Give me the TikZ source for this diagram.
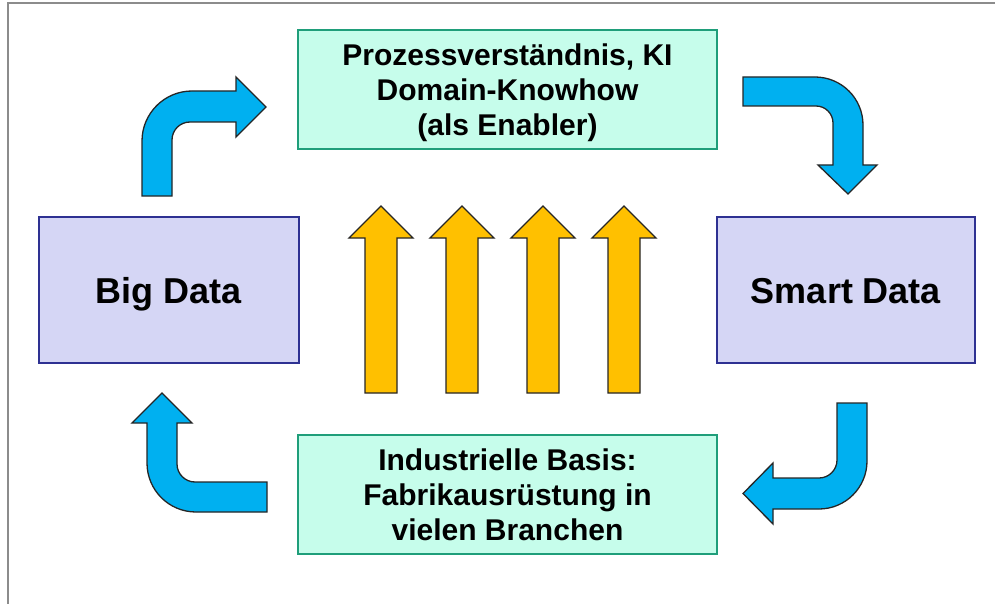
\documentclass[tikz,border=0pt]{standalone}
\usepackage{fontspec}
\setmainfont{Liberation Sans}
\definecolor{greenfill}{HTML}{C6FDEB}
\definecolor{greenline}{HTML}{1F9E7A}
\definecolor{bluefill}{HTML}{D5D6F5}
\definecolor{blueline}{HTML}{2E3192}
\definecolor{arrowblue}{HTML}{00B0F0}
\definecolor{arrowyellow}{HTML}{FFC000}
\definecolor{framegray}{HTML}{8C8C8C}
\begin{document}
\begin{tikzpicture}[x=1pt,y=-1pt,
  greenbox/.style={draw=greenline,line width=1.6pt,fill=greenfill,minimum width=419pt,minimum height=119pt,
    align=center,font=\fontsize{30}{35}\selectfont\bfseries,text depth=0pt,inner sep=0pt},
  bluebox/.style={draw=blueline,line width=1.6pt,fill=bluefill,minimum height=146pt,
    font=\fontsize{36}{40}\selectfont\bfseries,text height=26pt,text depth=0pt,inner sep=0pt},
  bluearrow/.style={draw=black!85,line width=1.3pt,fill=arrowblue,line join=miter},
  yellowarrow/.style={draw=black!85,line width=1.3pt,fill=arrowyellow,line join=miter}]
\useasboundingbox (0,0) rectangle (995,604);
\fill[white] (0,0) rectangle (995,604);
% frame
\draw[framegray,line width=2pt] (8,604) -- (8,3) -- (995,3);
% boxes
\node[greenbox] (know) at (507.5,89.5) {Prozessverständnis, KI\\Domain-Knowhow\\(als Enabler)};
\node[greenbox] (basis) at (507.5,494.5) {Industrielle Basis:\\Fabrikausrüstung in\\vielen Branchen};
\node[bluebox,minimum width=260pt] (big) at (169,290) {Big Data};
\node[bluebox,minimum width=258pt] (smart) at (846,290) {Smart Data};
% blue curved arrows
\draw[bluearrow] (142,196) -- (142,141) .. controls (142,113.4) and (164.4,91) .. (192,91) -- (236,91) -- (236,77)
  -- (266,107) -- (236,137) -- (236,122) -- (190,122) .. controls (180.1,122) and (172,129.9) .. (172,140) -- (172,196) -- cycle;
\draw[bluearrow] (743,77) -- (815,77) .. controls (841.5,77) and (863,98.5) .. (863,125) -- (863,165) -- (877,165)
  -- (848,194) -- (818,165) -- (833,165) -- (833,123) .. controls (833,113.6) and (825.4,106) .. (816,106) -- (743,106) -- cycle;
\draw[bluearrow] (837,403) -- (867,403) -- (867,461) .. controls (867,487.5) and (845.5,509) .. (819,509) -- (773,509)
  -- (773,524) -- (743,493.5) -- (773,463) -- (773,478) -- (819,478) .. controls (828.9,478) and (837,469.9) .. (837,460) -- cycle;
\draw[bluearrow] (162,393) -- (192,423) -- (177,423) -- (177,464) .. controls (177,473.9) and (185.1,482) .. (195,482)
  -- (267,482) -- (267,512) -- (196,512) .. controls (168.9,512) and (147,490.1) .. (147,463) -- (147,423) -- (132,423) -- cycle;
% yellow arrows
\foreach \cx in {381,462,543,624}{
  \draw[yellowarrow] (\cx-16,393) -- (\cx-16,238) -- (\cx-32,238) -- (\cx,206) -- (\cx+32,238) -- (\cx+16,238) -- (\cx+16,393) -- cycle;
}
\end{tikzpicture}
\end{document}
